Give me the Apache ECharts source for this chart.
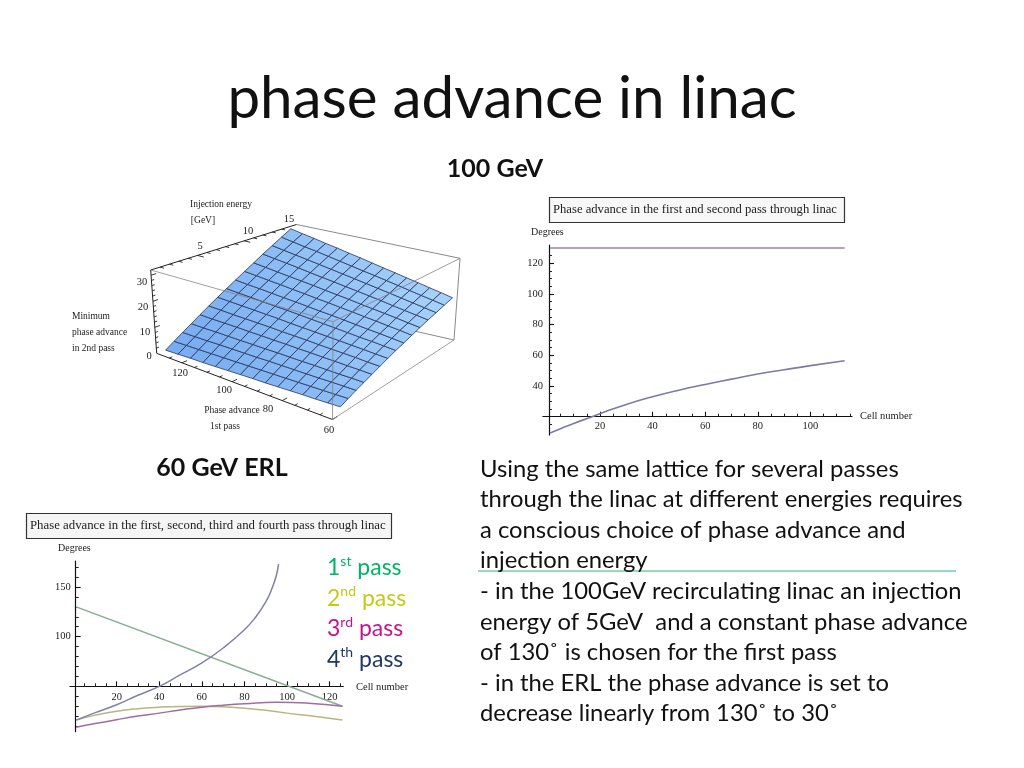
<!DOCTYPE html>
<html>
<head>
<meta charset="utf-8">
<style>html,body{margin:0;padding:0;background:#fff}#c{width:1024px;height:768px}</style>
<script src="https://cdn.jsdelivr.net/npm/echarts@6/dist/echarts.min.js"></script>
</head>
<body>
<div id="c"></div>
<script>
// ---------- data: top-right chart (100 GeV) ----------
const firstPassX100 = [1, 113];
const firstPass100 = [130, 130];
const secondPassX100 = [1, 5, 10, 17, 20, 30, 40, 50, 60, 70, 80, 90, 100, 113];
const secondPass100 = [9.4, 12.2, 15.6, 20, 22, 28, 33, 37.3, 41, 44.5, 47.8, 50.6, 53.3, 56.5];
const ticks100X = [20, 40, 60, 80, 100];
const minor100X = [5, 10, 15, 25, 30, 35, 45, 50, 55, 65, 70, 75, 85, 90, 95, 105, 110, 115];
const ticks100Y = [40, 60, 80, 100, 120];
const minor100Y = [10, 15, 25, 30, 35, 45, 50, 55, 65, 70, 75, 85, 90, 95, 105, 110, 115, 125, 130];

// ---------- data: bottom-left chart (60 GeV ERL) ----------
const passX1 = [1, 126];
const pass1 = [130, 30];
const passX2 = [1, 10, 20, 30, 40, 50, 60, 70, 80, 90, 100, 110, 126];
const pass2 = [16, 21, 25, 27.5, 29, 29.8, 30, 29.5, 28, 26, 23, 20.5, 16];
const passX3 = [1, 10, 20, 30, 40, 50, 60, 70, 80, 95, 110, 126];
const pass3 = [8.7, 12.5, 16.4, 20, 23, 26.2, 29, 31, 32.5, 34, 33, 30];
const passX4 = [1, 10, 20, 30, 40, 50, 60, 70, 80, 85, 90, 93, 95, 96];
const pass4 = [16, 23.5, 31.5, 41, 50, 61.7, 73.5, 88.6, 107, 119, 135, 149, 162, 173];
const ticksErlX = [20, 40, 60, 80, 100, 120];
const minorErlX = [5, 10, 15, 25, 30, 35, 45, 50, 55, 65, 70, 75, 85, 90, 95, 105, 110, 115, 125];
const ticksErlY = [100, 150];
const minorErlY = [10, 20, 30, 40, 50, 60, 70, 80, 90, 110, 120, 130, 140, 160, 170];

// ---------- data: surface (minimum phase advance in 2nd pass) ----------
const surfacePhase = [130, 125, 120, 115, 110, 105, 100, 95, 90, 85, 80, 75, 70, 65, 60];
const surfaceEnergy = [1, 2, 3, 4, 5, 6, 7, 8, 9, 10, 11, 12, 13, 14, 15];
const surfaceValues = [
  [0.0, 0.2, 0.4, 0.5, 0.7, 0.9, 1.1, 1.3, 1.4, 1.6, 1.8, 2.0, 2.1, 2.3, 2.5],
  [2.2, 2.3, 2.4, 2.5, 2.6, 2.7, 2.8, 2.9, 3.0, 3.1, 3.2, 3.3, 3.4, 3.5, 3.6],
  [4.4, 4.4, 4.4, 4.5, 4.5, 4.5, 4.5, 4.6, 4.6, 4.6, 4.6, 4.6, 4.7, 4.7, 4.7],
  [6.6, 6.5, 6.5, 6.4, 6.3, 6.3, 6.2, 6.2, 6.1, 6.0, 6.0, 5.9, 5.8, 5.8, 5.7],
  [8.9, 8.7, 8.6, 8.5, 8.3, 8.2, 8.0, 7.9, 7.7, 7.6, 7.4, 7.3, 7.1, 7.0, 6.8],
  [11.1, 10.9, 10.6, 10.4, 10.2, 10.0, 9.7, 9.5, 9.3, 9.0, 8.8, 8.6, 8.4, 8.1, 7.9],
  [13.3, 13.0, 12.7, 12.4, 12.1, 11.8, 11.4, 11.1, 10.8, 10.5, 10.2, 9.9, 9.6, 9.3, 9.0],
  [15.5, 15.1, 14.7, 14.3, 13.9, 13.6, 13.2, 12.8, 12.4, 12.0, 11.6, 11.2, 10.9, 10.5, 10.1],
  [17.7, 17.2, 16.8, 16.3, 15.8, 15.4, 14.9, 14.4, 14.0, 13.5, 13.0, 12.5, 12.1, 11.6, 11.1],
  [19.9, 19.4, 18.8, 18.3, 17.7, 17.2, 16.6, 16.1, 15.5, 15.0, 14.4, 13.9, 13.3, 12.8, 12.2],
  [22.1, 21.5, 20.8, 20.2, 19.6, 19.0, 18.3, 17.7, 17.1, 16.4, 15.8, 15.2, 14.6, 13.9, 13.3],
  [24.4, 23.7, 23.0, 22.3, 21.5, 20.8, 20.1, 19.4, 18.7, 18.0, 17.3, 16.5, 15.8, 15.1, 14.4],
  [26.6, 25.8, 25.0, 24.2, 23.4, 22.6, 21.8, 21.0, 20.2, 19.4, 18.6, 17.8, 17.0, 16.2, 15.4],
  [28.8, 27.9, 27.0, 26.2, 25.3, 24.4, 23.5, 22.6, 21.8, 20.9, 20.0, 19.1, 18.2, 17.4, 16.5],
  [31.0, 30.0, 29.1, 28.1, 27.2, 26.2, 25.3, 24.3, 23.3, 22.4, 21.4, 20.5, 19.5, 18.6, 17.6]
];
const axisPhaseTicks = [125, 115, 110, 105, 95, 90, 85, 75, 70, 65];
const axisPhaseMajor = [120, 100, 80];
const axisEnergyTicks = [1, 2, 3, 4, 6, 7, 8, 9, 11, 12, 13, 14];
const axisEnergyMajor = [5, 10];
const axisZTicks = [2, 4, 6, 8, 12, 14, 16, 18, 22, 24, 26, 28];
const axisZMajor = [10, 20, 30];

// ---------- text ----------
const paragraph = [
  'Using the same lattice for several passes',
  'through the linac at different energies requires',
  'a conscious choice of phase advance and',
  'injection energy',
  '- in the 100GeV recirculating linac an injection',
  'energy of 5GeV  and a constant phase advance',
  'of 130˚ is chosen for the first pass',
  '- in the ERL the phase advance is set to',
  'decrease linearly from 130˚ to 30˚'
];
const serif = '"Liberation Serif", serif';
const sans = 'Lato, sans-serif';

function zip(xs, ys) { return xs.map((x, i) => [x, ys[i]]); }

// box projection of the 3D plot: phase 130..60, energy 0..15.6, value 0..32
const E_MAX = 15.6;
const BOX = {
  a0: [156.7, 353.3], b0: [332.5, 419.5], c0: [454, 340], d0: [295, 304],
  a1: [150.7, 270], b1: [333, 321.7], c1: [460, 258.3], d1: [296.5, 224.5]
};
function project(p, e, z) {
  const u = (130 - p) / 70, v = e / E_MAX, w = z / 32;
  const mix = (k) => {
    const low = (1 - u) * (1 - v) * BOX.a0[k] + u * (1 - v) * BOX.b0[k] + u * v * BOX.c0[k] + (1 - u) * v * BOX.d0[k];
    const top = (1 - u) * (1 - v) * BOX.a1[k] + u * (1 - v) * BOX.b1[k] + u * v * BOX.c1[k] + (1 - u) * v * BOX.d1[k];
    return low * (1 - w) + top * w;
  };
  return [mix(0), mix(1)];
}
const cells = [];
for (let j = 0; j < surfaceEnergy.length - 1; j++) {
  for (let i = 0; i < surfacePhase.length - 1; i++) {
    cells.push([surfacePhase[i], surfacePhase[i + 1], surfaceEnergy[j], surfaceEnergy[j + 1],
      surfaceValues[j][i], surfaceValues[j][i + 1], surfaceValues[j + 1][i + 1], surfaceValues[j + 1][i]]);
  }
}
function cellColor(p, e) {
  const t = Math.min(1, 0.45 * (130 - p) / 70 + 0.55 * e / 15);
  const c0 = [118, 170, 240], c1 = [170, 212, 250];
  return 'rgb(' + c0.map((c, k) => Math.round(c + (c1[k] - c) * t)).join(',') + ')';
}
function segSeries(data, z, stroke, width) {
  return {
    type: 'custom', coordinateSystem: 'none', silent: true, z: z, data: data, animation: false,
    renderItem(params, api) {
      const s = project(api.value(0), api.value(1), api.value(2));
      const t = project(api.value(3), api.value(4), api.value(5));
      return { type: 'line', shape: { x1: s[0], y1: s[1], x2: t[0], y2: t[1] }, style: { stroke: stroke, lineWidth: width } };
    }
  };
}
const backEdges = [[130, E_MAX, 0, 60, E_MAX, 0], [130, E_MAX, 32, 60, E_MAX, 32], [60, E_MAX, 0, 60, E_MAX, 32]];
const blackEdges = [[130, 0, 0, 130, 0, 32], [130, 0, 32, 130, E_MAX, 32], [130, 0, 0, 60, 0, 0]];
const frontEdges = [[60, 0, 0, 60, E_MAX, 0], [130, 0, 32, 60, 0, 32], [60, 0, 0, 60, 0, 32], [60, 0, 32, 60, E_MAX, 32]];
const tickSegs = [];
axisPhaseTicks.forEach(p => tickSegs.push([p, 0, 0, p, 0.35, 0]));
axisPhaseMajor.concat([60]).forEach(p => tickSegs.push([p, 0, 0, p, 0.6, 0]));
axisEnergyTicks.forEach(e => tickSegs.push([130, e, 32, 128.5, e, 32]));
axisEnergyMajor.forEach(e => tickSegs.push([130, e, 32, 127.5, e, 32]));
axisZTicks.forEach(z => tickSegs.push([130, 0, z, 130, 0.3, z]));
axisZMajor.forEach(z => tickSegs.push([130, 0, z, 130, 0.55, z]));

const lbl = (text, x, y, o) => ({
  type: 'text', x: x, y: y, z: 20, silent: true,
  style: Object.assign({ text: text, fill: '#222', font: '9.5px ' + serif, textAlign: 'center', textVerticalAlign: 'middle' }, o || {})
});
const tickFont = { font: '10.5px ' + serif };
const graphics = [
  lbl('Injection energy', 221, 204),
  lbl('[GeV]', 203, 220),
  lbl('5', 200, 246, tickFont), lbl('10', 248, 231, tickFont), lbl('15', 289, 219, tickFont),
  lbl('30', 142, 282, tickFont), lbl('20', 143, 307, tickFont), lbl('10', 145, 332, tickFont), lbl('0', 149, 356, tickFont),
  lbl('Minimum', 72, 316, { textAlign: 'left' }),
  lbl('phase advance', 72, 332, { textAlign: 'left' }),
  lbl('in 2nd pass', 72, 348, { textAlign: 'left' }),
  lbl('120', 180, 373, tickFont), lbl('100', 224, 390, tickFont), lbl('80', 268, 409, tickFont), lbl('60', 329, 430, tickFont),
  lbl('Phase advance', 232, 410), lbl('1st pass', 225, 426),
  lbl('Degrees', 531, 232, { textAlign: 'left', font: '10px ' + serif }),
  lbl('Cell number', 860, 416, { textAlign: 'left', font: '10.5px ' + serif }),
  lbl('Degrees', 58, 548, { textAlign: 'left', font: '10px ' + serif }),
  lbl('Cell number', 356, 687, { textAlign: 'left', font: '10.5px ' + serif }),
  { type: 'line', z: 5, silent: true, shape: { x1: 478, y1: 571, x2: 956, y2: 571 }, style: { stroke: '#2db37a', lineWidth: 1 } }
];
paragraph.forEach((t, i) => graphics.push({
  type: 'text', x: 480, y: 469 + 30.6 * i, z: 10, silent: true,
  style: { text: t, fill: '#111', font: '23.8px ' + sans, textAlign: 'left', textVerticalAlign: 'middle' }
}));

function axisPair(cfg) {
  const common = { type: 'value', min: cfg.min, max: cfg.max, gridIndex: cfg.grid, position: cfg.position, offset: cfg.offset, splitLine: { show: false } };
  return [
    Object.assign({}, common, {
      axisLine: { show: true, onZero: false, lineStyle: { color: '#111', width: 1.2 } },
      axisTick: { show: true, inside: true, length: 5, customValues: cfg.major, lineStyle: { color: '#111', width: 1.1 } },
      axisLabel: { show: true, customValues: cfg.major, margin: cfg.margin, color: '#222', fontFamily: serif, fontSize: 10.5 }
    }),
    Object.assign({}, common, {
      axisLine: { show: false, onZero: false },
      axisTick: { show: true, inside: true, length: 3, customValues: cfg.minor, lineStyle: { color: '#222', width: 1 } },
      axisLabel: { show: false }
    })
  ];
}
const xAxes = axisPair({ grid: 0, min: -1.7, max: 115.8, position: 'bottom', offset: -18.4, major: ticks100X, minor: minor100X, margin: 4 })
  .concat(axisPair({ grid: 1, min: -1.9, max: 126.4, position: 'bottom', offset: -45.4, major: ticksErlX, minor: minorErlX, margin: 5 }));
const yAxes = axisPair({ grid: 0, min: 8, max: 132, position: 'left', offset: -6.1, major: ticks100Y, minor: minor100Y, margin: 6 })
  .concat(axisPair({ grid: 1, min: 4.3, max: 176.2, position: 'left', offset: -5.7, major: ticksErlY, minor: minorErlY, margin: 5 }));

function curve(name, xs, ys, color, xi, yi, width) {
  return {
    name: name, type: 'line', xAxisIndex: xi, yAxisIndex: yi, data: zip(xs, ys), showSymbol: false, symbol: 'none',
    smooth: 0.5, lineStyle: { color: color, width: width || 1.5 }, itemStyle: { color: color }, silent: true, z: 3, animation: false
  };
}
const legendLabels = { '1st pass': ['1', 'st'], '2nd pass': ['2', 'nd'], '3rd pass': ['3', 'rd'], '4th pass': ['4', 'th'] };

const chart = echarts.init(document.getElementById('c'), null, { renderer: 'canvas' });
chart.setOption({
  backgroundColor: '#fff',
  animation: false,
  title: [
    { text: 'phase advance in linac', left: 512, top: 63, textAlign: 'center', padding: 0, textStyle: { fontFamily: sans, fontWeight: 'normal', fontSize: 58.3, color: '#111', lineHeight: 72 } },
    { text: '100 GeV', left: 495, top: 155, textAlign: 'center', padding: 0, textStyle: { fontFamily: sans, fontWeight: 'bold', fontSize: 25, color: '#111', lineHeight: 28 } },
    { text: '60 GeV ERL', left: 222, top: 454, textAlign: 'center', padding: 0, textStyle: { fontFamily: sans, fontWeight: 'bold', fontSize: 25, color: '#111', lineHeight: 28 } },
    { text: 'Phase advance in the first and second pass through linac', left: 549, top: 197, padding: [6, 8, 6, 4], borderColor: '#333', borderWidth: 1.2, backgroundColor: '#f7f7f7', textStyle: { fontFamily: serif, fontWeight: 'normal', fontSize: 12.65, color: '#222', lineHeight: 14 } },
    { text: 'Phase advance in the first, second, third and fourth pass through linac', left: 26, top: 513, padding: [6, 6, 6, 4], borderColor: '#333', borderWidth: 1.2, backgroundColor: '#f5f5f5', textStyle: { fontFamily: serif, fontWeight: 'normal', fontSize: 12.8, color: '#222', lineHeight: 14 } }
  ],
  legend: {
    orient: 'vertical', left: 322, top: 554, itemWidth: 0, itemHeight: 0, itemGap: 5, icon: 'none', selectedMode: false, padding: 0,
    data: [
      { name: '1st pass', textStyle: { color: '#00b469' } },
      { name: '2nd pass', textStyle: { color: '#c8c81a' } },
      { name: '3rd pass', textStyle: { color: '#c4148c' } },
      { name: '4th pass', textStyle: { color: '#1f3864' } }
    ],
    formatter: (n) => { const p = legendLabels[n]; return '{n|' + p[0] + '}{s|' + p[1] + '}{n| pass}'; },
    textStyle: {
      fontFamily: sans, fontSize: 23,
      rich: { n: { fontFamily: sans, fontSize: 23, lineHeight: 28 }, s: { fontFamily: sans, fontSize: 14, lineHeight: 28, verticalAlign: 'top' } }
    }
  },
  grid: [
    { left: 542.9, top: 245, width: 309.1, height: 190.1 },
    { left: 70, top: 561, width: 273.3, height: 170.7 }
  ],
  xAxis: xAxes,
  yAxis: yAxes,
  graphic: graphics,
  series: [
    curve('1st pass 100 GeV', firstPassX100, firstPass100, '#b9a3b3', 0, 0, 2),
    curve('2nd pass 100 GeV', secondPassX100, secondPass100, '#7b7ba6', 0, 0, 1.6),
    curve('1st pass', passX1, pass1, '#86ad90', 2, 2),
    curve('2nd pass', passX2, pass2, '#b8b67c', 2, 2),
    curve('3rd pass', passX3, pass3, '#9e6e9e', 2, 2),
    curve('4th pass', passX4, pass4, '#8080a8', 2, 2),
    segSeries(backEdges, 2, '#8a8a8a', 1),
    segSeries(blackEdges, 2, '#222', 1),
    segSeries(tickSegs, 2, '#222', 0.9),
    {
      type: 'custom', coordinateSystem: 'none', silent: true, z: 4, data: cells, animation: false,
      renderItem(params, api) {
        const p0 = api.value(0), p1 = api.value(1), e0 = api.value(2), e1 = api.value(3);
        return {
          type: 'polygon',
          shape: { points: [project(p0, e0, api.value(4)), project(p1, e0, api.value(5)), project(p1, e1, api.value(6)), project(p0, e1, api.value(7))] },
          style: { fill: cellColor(p0, e0), stroke: '#22345c', lineWidth: 0.8 }
        };
      }
    },
    segSeries(frontEdges, 5, 'rgba(125,125,125,0.75)', 1)
  ]
});
</script>
</body>
</html>
